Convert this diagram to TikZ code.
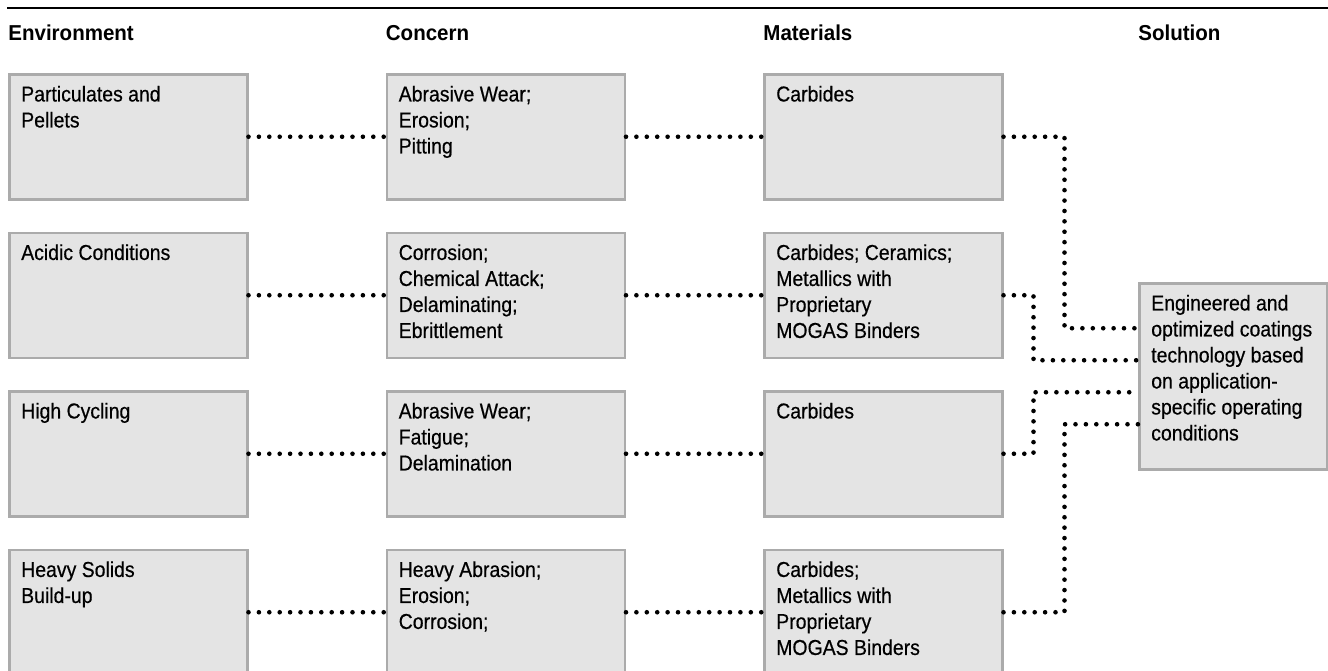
\documentclass[tikz,border=0pt]{standalone}
\usepackage{fontspec}
\setmainfont{Liberation Sans}[FakeStretch=0.9,FakeBold=0.5]
\newfontfamily\headfont{Liberation Sans}[FakeStretch=0.95]
\definecolor{cellfill}{HTML}{E4E4E4}
\definecolor{cellline}{HTML}{ABABAB}
\newcommand{\celltext}[1]{\parbox[t][53.5pt][t]{107pt}{\raggedright\strut#1}}
\tikzset{
	cell/.style={draw=cellline,fill=cellfill,line width=1.25pt,anchor=north west,inner xsep=6pt,inner ysep=4.5pt,font=\fontsize{10.8pt}{13pt}\selectfont},
	head/.style={anchor=base west,inner sep=0pt,font=\headfont\bfseries\fontsize{10.8pt}{13pt}\selectfont},
	dots/.style={line width=2.3pt,line cap=round,dash pattern=on 0pt off 5.2pt}
}
\begin{document}
\begin{tikzpicture}[x=0.5pt,y=-0.5pt]
		\useasboundingbox (0,0) rectangle (1328,670);
		\draw[line width=1pt] (7,8) -- (1328,8);
		% column heads
		\node[head] (henv) at (8,40.5) {Environment};
		\node[head] (hcon) at (385.5,40.5) {Concern};
		\node[head] (hmat) at (763,40.5) {Materials};
		\node[head] (hsol) at (1138,40.5) {Solution};
		% environment
		\node[cell] (env1) at (8,73) {\celltext{Particulates and\\Pellets}};
		\node[cell] (env2) at (8,231.5) {\celltext{Acidic Conditions}};
		\node[cell] (env3) at (8,390) {\celltext{High Cycling}};
		\node[cell] (env4) at (8,548.5) {\celltext{Heavy Solids\\Build-up}};
		% concern
		\node[cell] (con1) at (385.5,73) {\celltext{Abrasive Wear;\\Erosion;\\Pitting}};
		\node[cell] (con2) at (385.5,231.5) {\celltext{Corrosion;\\Chemical Attack;\\Delaminating;\\Ebrittlement}};
		\node[cell] (con3) at (385.5,390) {\celltext{Abrasive Wear;\\Fatigue;\\Delamination}};
		\node[cell] (con4) at (385.5,548.5) {\celltext{Heavy Abrasion;\\Erosion;\\Corrosion;}};
		% materials
		\node[cell] (mat1) at (763,73) {\celltext{Carbides}};
		\node[cell] (mat2) at (763,231.5) {\celltext{Carbides; Ceramics;\\Metallics with\\Proprietary\\MOGAS Binders}};
		\node[cell] (mat3) at (763,390) {\celltext{Carbides}};
		\node[cell] (mat4) at (763,548.5) {\celltext{Carbides;\\Metallics with\\Proprietary\\MOGAS Binders}};
		% solution
		\node[cell] (sol) at (1138,282) {\parbox[t][84pt][t]{82pt}{\raggedright\strut Engineered and\\optimized coatings\\technology based\\on application-\\specific operating\\conditions}};
		\coordinate (in1) at ([yshift=24pt]sol.west);
		\coordinate (in2) at ([yshift=8pt]sol.west);
		\coordinate (in3) at ([yshift=-8pt]sol.west);
		\coordinate (in4) at ([yshift=-24pt]sol.west);
		\foreach \r in {1,...,4}{
			\draw[dots] (env\r.east) -- (con\r.west);
			\draw[dots] (con\r.east) -- (mat\r.west);
		}
		\draw[dots] (mat1.east) -- ++(61,0) |- (in1);
		\draw[dots] (mat2.east) -- ++(30,0) |- (in2);
		\draw[dots] (mat3.east) -- ++(30,0) |- (in3);
		\draw[dots] (mat4.east) -- ++(61,0) |- (in4);
	\end{tikzpicture}
\end{document}
